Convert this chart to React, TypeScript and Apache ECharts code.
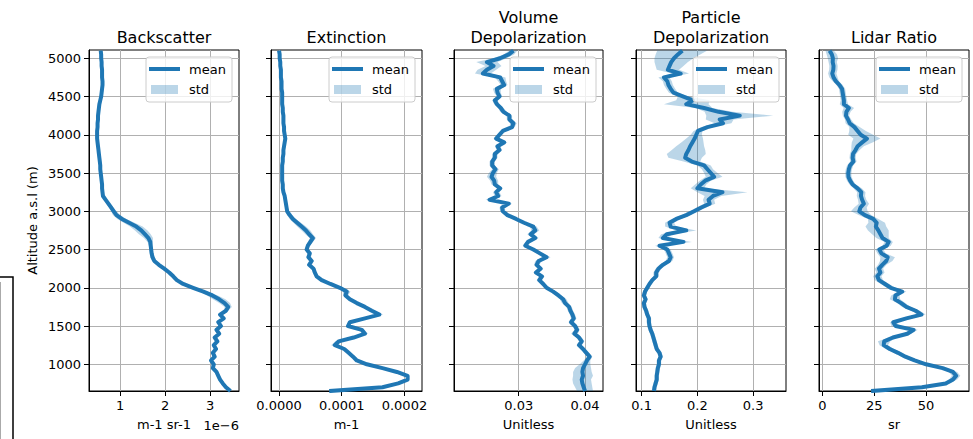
import React, { useEffect, useRef } from "react";
import * as echarts from "echarts";

// Altitude a.s.l (m), top to bottom
const altitude = [
  5100, 5050, 5000, 4950, 4900, 4850, 4800, 4750, 4700, 4650,
  4600, 4550, 4500, 4450, 4400, 4350, 4300, 4250, 4200, 4150,
  4100, 4050, 4000, 3950, 3900, 3850, 3800, 3750, 3700, 3650,
  3600, 3550, 3500, 3450, 3400, 3350, 3300, 3250, 3200, 3150,
  3100, 3050, 3000, 2950, 2900, 2850, 2800, 2750, 2700, 2650,
  2600, 2550, 2500, 2450, 2400, 2350, 2300, 2250, 2200, 2150,
  2100, 2050, 2000, 1950, 1900, 1850, 1800, 1750, 1700, 1650,
  1600, 1550, 1500, 1450, 1400, 1350, 1300, 1250, 1200, 1150,
  1100, 1050, 1000, 950, 900, 850, 800, 750, 700, 650,
];

// Backscatter mean / std (x 1e-6 m-1 sr-1)
const backscatter = [
  0.57, 0.58, 0.58, 0.59, 0.59, 0.6, 0.6, 0.6, 0.61, 0.61,
  0.6, 0.59, 0.58, 0.56, 0.54, 0.53, 0.52, 0.51, 0.51, 0.5,
  0.5, 0.49, 0.49, 0.49, 0.5, 0.51, 0.52, 0.53, 0.54, 0.55,
  0.56, 0.56, 0.57, 0.58, 0.59, 0.6, 0.6, 0.61, 0.62, 0.68,
  0.74, 0.8, 0.86, 0.92, 1.04, 1.2, 1.36, 1.47, 1.55, 1.63,
  1.67, 1.68, 1.69, 1.7, 1.72, 1.76, 1.86, 1.98, 2.09, 2.18,
  2.26, 2.4, 2.62, 2.85, 3.05, 3.2, 3.32, 3.4, 3.35, 3.22,
  3.3, 3.18, 3.24, 3.14, 3.2, 3.1, 3.16, 3.08, 3.13, 3.06,
  3.1, 3.02, 3.08, 3.06, 3.14, 3.18, 3.22, 3.28, 3.35, 3.45,
];
const backscatterStd = [
  0.03, 0.03, 0.03, 0.03, 0.03, 0.03, 0.03, 0.03, 0.03, 0.03,
  0.03, 0.03, 0.03, 0.03, 0.03, 0.03, 0.03, 0.03, 0.03, 0.03,
  0.03, 0.03, 0.03, 0.03, 0.03, 0.03, 0.03, 0.03, 0.03, 0.03,
  0.03, 0.03, 0.03, 0.03, 0.03, 0.03, 0.03, 0.03, 0.03, 0.03,
  0.04, 0.05, 0.06, 0.08, 0.1, 0.12, 0.14, 0.14, 0.13, 0.1,
  0.06, 0.04, 0.04, 0.04, 0.05, 0.05, 0.04, 0.04, 0.04, 0.04,
  0.04, 0.04, 0.05, 0.08, 0.12, 0.14, 0.12, 0.08, 0.05, 0.04,
  0.04, 0.04, 0.04, 0.04, 0.04, 0.04, 0.04, 0.04, 0.04, 0.04,
  0.04, 0.04, 0.04, 0.04, 0.04, 0.04, 0.04, 0.04, 0.04, 0.04,
];

// Extinction mean / std (x 1e-4 m-1)
const extinction = [
  0.0, 0.01, 0.01, 0.02, 0.02, 0.03, 0.03, 0.03, 0.04, 0.04,
  0.04, 0.05, 0.05, 0.05, 0.05, 0.06, 0.06, 0.07, 0.07, 0.07,
  0.08, 0.08, 0.09, 0.1, 0.09, 0.08, 0.07, 0.07, 0.06, 0.06,
  0.05, 0.05, 0.05, 0.05, 0.05, 0.06, 0.06, 0.07, 0.09, 0.1,
  0.11, 0.12, 0.13, 0.17, 0.22, 0.29, 0.36, 0.43, 0.48, 0.54,
  0.5, 0.46, 0.44, 0.49, 0.47, 0.52, 0.48, 0.55, 0.57, 0.6,
  0.68, 0.82, 0.97, 1.08, 1.06, 1.13, 1.24, 1.37, 1.48, 1.6,
  1.37, 1.13, 1.1, 1.32, 1.37, 1.19, 0.95, 0.89, 1.04, 1.11,
  1.18, 1.24, 1.4, 1.65, 1.88, 2.05, 2.05, 1.9, 1.65, 0.8,
];
const extinctionStd = [
  0.01, 0.01, 0.01, 0.01, 0.01, 0.01, 0.01, 0.01, 0.01, 0.01,
  0.01, 0.01, 0.01, 0.01, 0.01, 0.01, 0.01, 0.01, 0.01, 0.01,
  0.01, 0.01, 0.02, 0.02, 0.02, 0.01, 0.01, 0.01, 0.01, 0.01,
  0.01, 0.01, 0.01, 0.01, 0.01, 0.01, 0.01, 0.02, 0.02, 0.02,
  0.02, 0.02, 0.03, 0.04, 0.05, 0.06, 0.07, 0.07, 0.06, 0.05,
  0.04, 0.03, 0.03, 0.03, 0.04, 0.04, 0.03, 0.03, 0.03, 0.03,
  0.03, 0.03, 0.04, 0.06, 0.04, 0.03, 0.03, 0.03, 0.04, 0.06,
  0.04, 0.03, 0.03, 0.04, 0.05, 0.04, 0.05, 0.06, 0.04, 0.03,
  0.03, 0.03, 0.03, 0.03, 0.03, 0.03, 0.03, 0.03, 0.03, 0.03,
];

// Volume depolarization mean / std (unitless)
const volumeDepol = [
  0.0292, 0.0285, 0.0272, 0.0252, 0.0262, 0.0252, 0.0246, 0.0272, 0.0275, 0.0278,
  0.0267, 0.0268, 0.0271, 0.0264, 0.0267, 0.0273, 0.0277, 0.0286, 0.0286, 0.0292,
  0.029, 0.0276, 0.0271, 0.0266, 0.0278, 0.0268, 0.0271, 0.0264, 0.0264, 0.026,
  0.026, 0.0265, 0.0261, 0.0259, 0.0263, 0.0264, 0.0272, 0.0266, 0.0269, 0.0256,
  0.0285, 0.0275, 0.0276, 0.0283, 0.0296, 0.0308, 0.0322, 0.0325, 0.0318, 0.0325,
  0.0314, 0.031, 0.0322, 0.0332, 0.0342, 0.033, 0.0327, 0.0333, 0.0326, 0.0335,
  0.0331, 0.0337, 0.0342, 0.0352, 0.036, 0.0367, 0.037, 0.0376, 0.0378, 0.0381,
  0.0383, 0.0379, 0.0385, 0.0388, 0.0384, 0.0391, 0.0395, 0.0391, 0.0397, 0.0402,
  0.0407, 0.0403, 0.04, 0.0397, 0.0396, 0.0397, 0.0395, 0.0396, 0.0398, 0.04,
];
const volumeDepolStd = [
  0.0006, 0.0008, 0.001, 0.0016, 0.0012, 0.0014, 0.0012, 0.0008, 0.0006, 0.0005,
  0.0006, 0.0005, 0.0004, 0.0004, 0.0004, 0.0004, 0.0005, 0.0004, 0.0004, 0.0005,
  0.0004, 0.0004, 0.0004, 0.0004, 0.0005, 0.0004, 0.0004, 0.0004, 0.0004, 0.0004,
  0.0004, 0.0005, 0.0006, 0.0007, 0.0006, 0.0005, 0.0004, 0.0005, 0.0005, 0.0006,
  0.0005, 0.0004, 0.0004, 0.0004, 0.0004, 0.0004, 0.0005, 0.0006, 0.0005, 0.0005,
  0.0004, 0.0004, 0.0004, 0.0005, 0.0006, 0.0005, 0.0004, 0.0004, 0.0004, 0.0004,
  0.0004, 0.0004, 0.0004, 0.0004, 0.0005, 0.0005, 0.0005, 0.0004, 0.0004, 0.0004,
  0.0004, 0.0004, 0.0004, 0.0004, 0.0005, 0.0004, 0.0004, 0.0004, 0.0004, 0.0004,
  0.0004, 0.0005, 0.0008, 0.0012, 0.0014, 0.0015, 0.0014, 0.0014, 0.0013, 0.0012,
];

// Particle depolarization mean / std (unitless)
const particleDepol = [
  0.173, 0.165, 0.158, 0.153, 0.15, 0.147, 0.17, 0.14, 0.146, 0.148,
  0.152, 0.157, 0.175, 0.192, 0.18, 0.212, 0.238, 0.276, 0.24, 0.246,
  0.218, 0.201, 0.198, 0.195, 0.191, 0.187, 0.184, 0.18, 0.178, 0.19,
  0.212, 0.218, 0.224, 0.23, 0.214, 0.206, 0.2, 0.245, 0.228, 0.22,
  0.222, 0.207, 0.194, 0.18, 0.162, 0.15, 0.152, 0.18, 0.145, 0.138,
  0.175, 0.132, 0.146, 0.149, 0.152, 0.149, 0.138, 0.13, 0.126, 0.126,
  0.119, 0.114, 0.11, 0.106, 0.104, 0.107, 0.104, 0.105, 0.108, 0.11,
  0.113, 0.113, 0.114, 0.116, 0.119, 0.121, 0.123, 0.125, 0.127, 0.132,
  0.134, 0.131, 0.131, 0.129, 0.128, 0.127, 0.127, 0.125, 0.123, 0.122,
];
const particleDepolStd = [
  0.045, 0.04, 0.035, 0.03, 0.025, 0.02, 0.015, 0.01, 0.008, 0.008,
  0.008, 0.008, 0.01, 0.03, 0.04, 0.015, 0.025, 0.06, 0.025, 0.015,
  0.01, 0.008, 0.01, 0.015, 0.02, 0.025, 0.03, 0.035, 0.03, 0.015,
  0.012, 0.01, 0.012, 0.015, 0.01, 0.01, 0.012, 0.045, 0.015, 0.01,
  0.01, 0.008, 0.008, 0.008, 0.008, 0.008, 0.01, 0.018, 0.01, 0.008,
  0.015, 0.008, 0.006, 0.006, 0.006, 0.006, 0.006, 0.005, 0.005, 0.005,
  0.004, 0.004, 0.004, 0.004, 0.004, 0.004, 0.004, 0.004, 0.004, 0.004,
  0.004, 0.004, 0.004, 0.004, 0.004, 0.004, 0.004, 0.004, 0.004, 0.004,
  0.004, 0.004, 0.004, 0.004, 0.004, 0.004, 0.004, 0.004, 0.004, 0.004,
];

// Lidar ratio mean / std (sr)
const lidarRatio = [
  3.5, 4.6, 5.1, 5.0, 5.4, 5.3, 4.8, 5.4, 6.5, 8.3,
  9.5, 9.8, 10.1, 10.4, 10.4, 12.8, 11.6, 11.4, 12.4, 13.2,
  15.5, 17.0, 18.5, 21.5, 19.2, 17.0, 16.0, 14.8, 14.6, 15.0,
  13.4, 12.8, 12.5, 12.6, 13.4, 14.6, 17.0, 18.8, 18.6, 19.2,
  20.0, 18.4, 17.8, 20.5, 24.5, 26.2, 25.8, 27.0, 28.0, 29.0,
  32.0, 31.0, 27.5, 28.5, 31.5, 30.8, 28.9, 27.3, 28.0, 26.5,
  27.3, 30.2, 33.0, 38.5, 35.2, 35.0, 38.0, 40.5, 45.0, 47.8,
  40.5, 34.2, 35.3, 44.0, 41.0, 34.0, 29.8, 29.6, 32.5, 36.5,
  40.0, 44.5, 50.0, 58.0, 63.0, 64.5, 63.0, 59.5, 48.0, 23.5,
];
const lidarRatioStd = [
  2.0, 2.5, 2.5, 2.0, 2.0, 2.0, 2.0, 2.0, 1.5, 1.5,
  1.5, 1.5, 1.5, 1.5, 2.0, 2.5, 2.0, 1.5, 1.5, 2.0,
  2.5, 4.0, 6.0, 6.5, 5.0, 3.0, 2.0, 1.5, 1.5, 1.5,
  1.5, 1.5, 1.5, 1.5, 1.5, 1.5, 2.0, 2.0, 2.0, 2.0,
  2.5, 3.0, 4.0, 3.0, 2.5, 4.0, 5.0, 5.0, 4.0, 3.0,
  2.0, 2.0, 2.0, 2.0, 3.5, 3.0, 2.0, 2.0, 2.0, 2.0,
  2.0, 2.0, 2.0, 2.0, 2.0, 2.5, 2.0, 2.0, 2.0, 2.0,
  1.5, 1.5, 2.0, 2.0, 2.0, 2.0, 3.0, 2.0, 2.0, 2.0,
  2.0, 2.0, 2.0, 2.0, 2.0, 2.0, 2.0, 2.0, 1.5, 1.0,
];

// Tick values
const altitudeTicks = [1000, 1500, 2000, 2500, 3000, 3500, 4000, 4500, 5000];
const backscatterTicks = [1, 2, 3];
const extinctionTicks = [0, 1, 2];
const volumeTicks = [0.03, 0.04];
const particleTicks = [0.1, 0.2, 0.3];
const lidarTicks = [0, 25, 50];

const BLUE = "#1f77b4";
const BAND = "rgba(31,119,180,0.3)";
const FONT = "DejaVu Sans";
const TOP = 50;
const HEIGHT = 341;

type Panel = {
  title: string;
  unit: string;
  mean: number[];
  std: number[];
  min: number;
  max: number;
  ticks: number[];
  fmt: (v: number) => string;
  left: number;
  width: number;
};

const panels: Panel[] = [
  { title: "Backscatter", unit: "m-1 sr-1", mean: backscatter, std: backscatterStd, min: 0.31, max: 3.64, ticks: backscatterTicks, fmt: (v) => String(Math.round(v)), left: 89, width: 150 },
  { title: "Extinction", unit: "m-1", mean: extinction, std: extinctionStd, min: -0.128, max: 2.28, ticks: extinctionTicks, fmt: (v) => (v * 1e-4).toFixed(4), left: 271, width: 151 },
  { title: "Volume\nDepolarization", unit: "Unitless", mean: volumeDepol, std: volumeDepolStd, min: 0.02024, max: 0.04271, ticks: volumeTicks, fmt: (v) => v.toFixed(2), left: 454, width: 149 },
  { title: "Particle\nDepolarization", unit: "Unitless", mean: particleDepol, std: particleDepolStd, min: 0.0898, max: 0.359, ticks: particleTicks, fmt: (v) => v.toFixed(1), left: 636, width: 150 },
  { title: "Lidar Ratio", unit: "sr", mean: lidarRatio, std: lidarRatioStd, min: -1.6, max: 70.7, ticks: lidarTicks, fmt: (v) => String(Math.round(v)), left: 819, width: 150 },
];

function legendGroup(p: Panel): any {
  const w = 86;
  const h = 45;
  return {
    type: "group",
    x: p.left + p.width - 7 - w,
    y: TOP + 7,
    z: 100,
    children: [
      { type: "rect", shape: { x: 0, y: 0, width: w, height: h, r: 3 }, style: { fill: "rgba(255,255,255,0.8)", stroke: "#cccccc", lineWidth: 1 }, z: 100 },
      { type: "line", shape: { x1: 3, y1: 12, x2: 34, y2: 12 }, style: { stroke: BLUE, lineWidth: 4 }, z: 101 },
      { type: "text", x: 43, y: 12, style: { text: "mean", fontFamily: FONT, fontSize: 13, fill: "#000", textVerticalAlign: "middle", textAlign: "left" }, z: 101 },
      { type: "rect", shape: { x: 5, y: 28, width: 27, height: 9 }, style: { fill: BAND }, z: 101 },
      { type: "text", x: 43, y: 32, style: { text: "std", fontFamily: FONT, fontSize: 13, fill: "#000", textVerticalAlign: "middle", textAlign: "left" }, z: 101 },
    ],
  };
}

export default function App() {
  const ref = useRef<HTMLDivElement>(null);

  useEffect(() => {
    document.body.style.margin = "0";
    if (!ref.current) return;
    const chart = echarts.init(ref.current, null, { renderer: "svg" });

    const grid = panels.map((p) => ({
      left: p.left,
      top: TOP,
      width: p.width,
      height: HEIGHT,
      show: true,
      borderColor: "#000",
      borderWidth: 1,
      backgroundColor: "#fff",
    }));

    const xAxis = panels.map((p, i) => ({
      type: "value",
      gridIndex: i,
      min: p.min,
      max: p.max,
      name: p.unit,
      nameLocation: "middle",
      nameGap: 27,
      nameTextStyle: { fontFamily: FONT, fontSize: 13, color: "#000" },
      axisLine: { show: true, onZero: false, lineStyle: { color: "#000", width: 1 } },
      axisTick: { show: true, length: 5, customValues: p.ticks, lineStyle: { color: "#000", width: 1 } },
      axisLabel: { show: true, customValues: p.ticks, formatter: p.fmt, margin: 8, fontFamily: FONT, fontSize: 13, color: "#000" },
      splitLine: { show: true, lineStyle: { color: "#b0b0b0", width: 1 } },
    }));

    const yAxis = panels.map((p, i) => ({
      type: "value",
      gridIndex: i,
      min: 651,
      max: 5108,
      name: i === 0 ? "Altitude a.s.l (m)" : "",
      nameLocation: "middle",
      nameGap: 50,
      nameRotate: 90,
      nameTextStyle: { fontFamily: FONT, fontSize: 13, color: "#000" },
      axisLine: { show: true, onZero: false, lineStyle: { color: "#000", width: 1 } },
      axisTick: { show: true, length: 5, customValues: altitudeTicks, lineStyle: { color: "#000", width: 1 } },
      axisLabel: {
        show: i === 0,
        customValues: altitudeTicks,
        formatter: (v: number) => String(Math.round(v)),
        margin: 8,
        fontFamily: FONT,
        fontSize: 13,
        color: "#000",
      },
      splitLine: { show: true, lineStyle: { color: "#b0b0b0", width: 1 } },
    }));

    const series: any[] = [];
    panels.forEach((p, i) => {
      series.push({
        type: "custom",
        name: "std",
        xAxisIndex: i,
        yAxisIndex: i,
        clip: true,
        silent: true,
        z: 1,
        data: [[p.mean[0], altitude[0]]],
        renderItem: (_params: any, api: any) => {
          const pts: number[][] = [];
          for (let k = 0; k < altitude.length; k++) pts.push(api.coord([p.mean[k] - p.std[k], altitude[k]]));
          for (let k = altitude.length - 1; k >= 0; k--) pts.push(api.coord([p.mean[k] + p.std[k], altitude[k]]));
          return { type: "polygon", shape: { points: pts }, style: { fill: BAND } };
        },
      });
      series.push({
        type: "line",
        name: "mean",
        xAxisIndex: i,
        yAxisIndex: i,
        data: altitude.map((a, k) => [p.mean[k], a]),
        symbol: "none",
        silent: true,
        clip: true,
        z: 3,
        lineStyle: { color: BLUE, width: 4, join: "round" },
        itemStyle: { color: BLUE },
      });
    });

    const graphic: any[] = [];
    panels.forEach((p) => {
      graphic.push({
        type: "text",
        x: p.left + p.width / 2,
        y: 47,
        style: {
          text: p.title,
          fontFamily: FONT,
          fontSize: 16,
          lineHeight: 20,
          fill: "#000",
          textAlign: "center",
          textVerticalAlign: "bottom",
        },
      });
      graphic.push(legendGroup(p));
    });
    graphic.push({
      type: "text",
      x: 239,
      y: 425,
      style: { text: "1e\u22126", fontFamily: FONT, fontSize: 13, fill: "#000", textAlign: "right", textVerticalAlign: "middle" },
    });
    graphic.push({
      type: "polyline",
      shape: { points: [[-1, 277], [13, 277], [13, 440]] },
      style: { stroke: "#000", lineWidth: 1.5, fill: null },
    });
    graphic.push({
      type: "line",
      shape: { x1: 0.5, y1: 282, x2: 0.5, y2: 440 },
      style: { stroke: "#aaaaaa", lineWidth: 1 },
    });

    chart.setOption({
      animation: false,
      backgroundColor: "#fff",
      textStyle: { fontFamily: FONT },
      grid,
      xAxis,
      yAxis,
      series,
      graphic,
    });

    return () => chart.dispose();
  }, []);

  return <div ref={ref} style={{ width: 973, height: 439 }} />;
}
